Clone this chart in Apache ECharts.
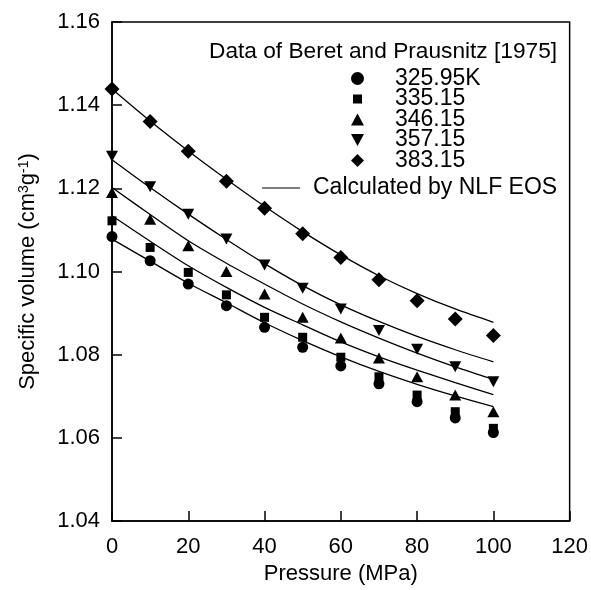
<!DOCTYPE html>
<html>
<head>
<meta charset="utf-8">
<script src="https://cdn.jsdelivr.net/npm/echarts@6/dist/echarts.min.js"></script>
<style>
html,body{margin:0;padding:0;background:#fff;}
#chart{width:591px;height:590px;}
</style>
</head>
<body>
<div id="chart"></div>
<script>
// Pressure (MPa)
var pressure = [0, 10, 20, 30, 40, 50, 60, 70, 80, 90, 100];
// Experimental data (Beret and Prausnitz 1975), specific volume cm3/g
var v325 = [1.1084, 1.1026, 1.0970, 1.0918, 1.0866, 1.0818, 1.0773, 1.0730, 1.0687, 1.0648, 1.0613];
var v335 = [1.1122, 1.1058, 1.0998, 1.0944, 1.0890, 1.0842, 1.0794, 1.0747, 1.0703, 1.0663, 1.0623];
var v346 = [1.1190, 1.1126, 1.1062, 1.1000, 1.0946, 1.0890, 1.0840, 1.0792, 1.0747, 1.0703, 1.0663];
var v357 = [1.1277, 1.1204, 1.1138, 1.1078, 1.1016, 1.0960, 1.0910, 1.0858, 1.0813, 1.0771, 1.0735];
var v383 = [1.1439, 1.1361, 1.1289, 1.1217, 1.1152, 1.1091, 1.1034, 1.0980, 1.0930, 1.0886, 1.0846];
// Calculated by NLF EOS
var c325 = [1.1078, 1.1025, 1.0972, 1.0925, 1.0877, 1.0834, 1.0795, 1.0760, 1.0729, 1.0701, 1.0675];
var c335 = [1.1134, 1.1073, 1.1014, 1.0962, 1.0914, 1.0872, 1.0831, 1.0795, 1.0763, 1.0733, 1.0704];
var c346 = [1.1202, 1.1137, 1.1074, 1.1020, 1.0970, 1.0922, 1.0879, 1.0840, 1.0804, 1.0771, 1.0741];
var c357 = [1.1269, 1.1202, 1.1138, 1.1077, 1.1019, 1.0966, 1.0920, 1.0880, 1.0844, 1.0812, 1.0783];
var c383 = [1.1439, 1.1362, 1.1290, 1.1222, 1.1157, 1.1096, 1.1040, 1.0990, 1.0947, 1.0910, 1.0878];

var seriesNames = ['325.95K', '335.15', '346.15', '357.15', '383.15'];
var lineName = 'Calculated by NLF EOS';
var headerText = 'Data of Beret and Prausnitz [1975]';

function pairs(xs, ys) { return xs.map(function (x, i) { return [x, ys[i]]; }); }

var FONT = '"Liberation Sans", Arial, Helvetica, sans-serif';
var dataSets = [v325, v335, v346, v357, v383];
var curveSets = [c325, c335, c346, c357, c383];
var symbols = ['circle', 'rect', 'triangle', 'triangle', 'diamond'];
var sizes = [11, 9, [12, 11], [12, 11], 15];
var rotates = [0, 0, 0, 180, 0];
var legendIcons = [
  'circle',
  'path://M0,0M13,13M2,2L11,2L11,11L2,11Z',
  'path://M6,0L12,11L0,11Z',
  'path://M0,0L12,0L6,11Z',
  'diamond'
];

var series = [];
curveSets.forEach(function (c) {
  series.push({
    name: lineName, type: 'line', data: pairs(pressure, c), smooth: 0.3,
    showSymbol: false, symbol: 'none', silent: true,
    lineStyle: { color: '#000', width: 1.3 }, itemStyle: { color: '#000' }, z: 2
  });
});
dataSets.forEach(function (d, i) {
  series.push({
    name: seriesNames[i], type: 'scatter', data: pairs(pressure, d),
    symbol: symbols[i], symbolSize: sizes[i], symbolRotate: rotates[i],
    itemStyle: { color: '#000', opacity: 1 }, z: 3
  });
});

var chart = echarts.init(document.getElementById('chart'), null, { renderer: 'canvas' });
chart.setOption({
  animation: false,
  backgroundColor: '#fff',
  textStyle: { fontFamily: FONT, color: '#000' },
  title: {
    text: headerText, left: 209, top: 40, padding: 0,
    textStyle: { fontFamily: FONT, fontSize: 22.7, fontWeight: 'normal', color: '#000', lineHeight: 24 }
  },
  legend: [{
    data: seriesNames.map(function (n, i) {
      return { name: n, icon: legendIcons[i], itemStyle: { color: '#000' } };
    }),
    orient: 'vertical', left: 351, top: 67, padding: 0,
    itemWidth: 13, itemHeight: 13, itemGap: -2.5,
    selectedMode: false,
    formatter: function (n) { return '{t|' + n + '}'; },
    textStyle: {
      fontFamily: FONT, fontSize: 23, color: '#000', lineHeight: 20.5,
      rich: { t: { fontFamily: FONT, fontSize: 23, color: '#000', lineHeight: 20.5, padding: [0, 0, 0, 26] } }
    }
  }, {
    data: [{ name: lineName, icon: 'path://M0,0L40,0L40,1L0,1Z', itemStyle: { color: '#000' } }],
    orient: 'vertical', left: 262, top: 176, padding: 0,
    itemWidth: 38, itemHeight: 14, selectedMode: false,
    formatter: function (n) { return '{t|' + n + '}'; },
    textStyle: {
      fontFamily: FONT, fontSize: 23, color: '#000', lineHeight: 24,
      rich: { t: { fontFamily: FONT, fontSize: 23, color: '#000', lineHeight: 24, padding: [0, 0, 0, 8] } }
    }
  }],
  grid: {
    left: 112, right: 20, top: 22, bottom: 67,
    show: true, borderColor: '#000', borderWidth: 1.5, backgroundColor: 'transparent'
  },
  xAxis: {
    type: 'value', min: 0, max: 120, interval: 20,
    name: 'Pressure (MPa)', nameLocation: 'middle', nameGap: 37,
    nameTextStyle: { fontFamily: FONT, fontSize: 22, color: '#000' },
    axisLine: { lineStyle: { color: '#000', width: 1.5 } },
    axisTick: { inside: true, length: 10, lineStyle: { color: '#000', width: 1.5 } },
    axisLabel: { fontFamily: FONT, fontSize: 22, color: '#000', margin: 15 },
    splitLine: { show: false }
  },
  yAxis: {
    type: 'value', min: 1.04, max: 1.16, interval: 0.02,
    name: '{a|Specific volume (cm}{s|3}{a|g}{s|-1}{a|)}',
    nameLocation: 'middle', nameGap: 73,
    nameTextStyle: {
      fontFamily: FONT, fontSize: 22, color: '#000',
      rich: {
        a: { fontFamily: FONT, fontSize: 22, color: '#000' },
        s: { fontFamily: FONT, fontSize: 14, color: '#000', verticalAlign: 'top', padding: [0, 0, 8, 0] }
      }
    },
    axisLine: { lineStyle: { color: '#000', width: 1.5 } },
    axisTick: { inside: true, length: 10, lineStyle: { color: '#000', width: 1.5 } },
    axisLabel: {
      fontFamily: FONT, fontSize: 22, color: '#000', margin: 12,
      formatter: function (v) { return v.toFixed(2); }
    },
    splitLine: { show: false }
  },
  series: series
});
</script>
</body>
</html>
